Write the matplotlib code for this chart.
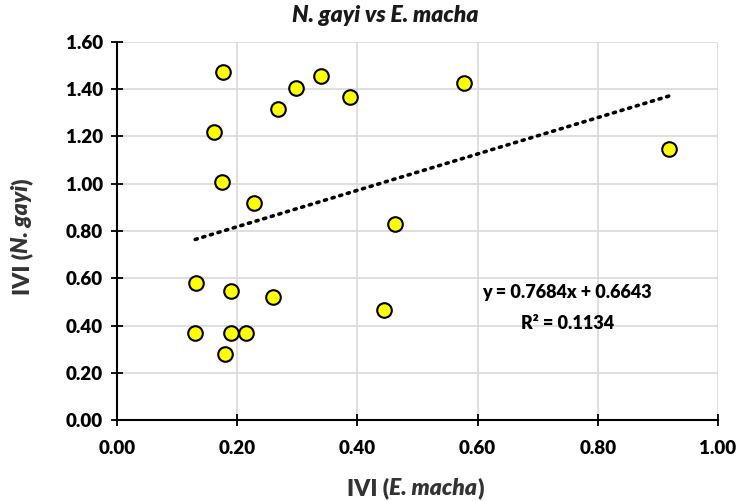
import numpy as np
import matplotlib.pyplot as plt

plt.rcParams['font.family'] = ['Lato', 'DejaVu Sans']

# IVI values
e_macha = [0.177, 0.162, 0.174, 0.228, 0.267, 0.298, 0.339, 0.388, 0.463,
           0.132, 0.190, 0.260, 0.444, 0.130, 0.190, 0.215, 0.180, 0.578, 0.918]
n_gayi = [1.472, 1.220, 1.008, 0.920, 1.317, 1.406, 1.456, 1.366, 0.831,
          0.579, 0.546, 0.522, 0.466, 0.368, 0.368, 0.368, 0.279, 1.423, 1.147]

slope = 0.7684
intercept = 0.6643
r2 = 0.1134

xticks = [0.0, 0.2, 0.4, 0.6, 0.8, 1.0]
yticks = [0.0, 0.2, 0.4, 0.6, 0.8, 1.0, 1.2, 1.4, 1.6]

fig = plt.figure(figsize=(7.41, 5.01), dpi=100)
ax = fig.add_axes([0.158, 0.161, 0.811, 0.756])

ax.grid(True, color='#d9d9d9', linewidth=1.2, zorder=0)
ax.set_axisbelow(True)

# linear trendline
xs = np.array([min(e_macha), max(e_macha)])
ax.plot(xs, slope * xs + intercept, color='black', linewidth=2.6,
        linestyle=(0, (0.6, 1.6)), dash_capstyle='round', zorder=2)

ax.scatter(e_macha, n_gayi, s=110, c='#ffff00', edgecolors='black',
           linewidths=1.5, zorder=3)

ax.set_xlim(0, 1.0)
ax.set_ylim(0, 1.6)
ax.set_xticks(xticks)
ax.set_yticks(yticks)
ax.set_xticklabels(['%.2f' % v for v in xticks])
ax.set_yticklabels(['%.2f' % v for v in yticks])
ax.tick_params(axis='both', direction='inout', length=8, width=1.3,
               labelsize=13.5, pad=6)
ax.tick_params(axis='x', pad=10)
for lab in ax.get_xticklabels() + ax.get_yticklabels():
    lab.set_fontweight('heavy')

for s in ['top', 'right']:
    ax.spines[s].set_visible(False)
for s in ['left', 'bottom']:
    ax.spines[s].set_linewidth(1.5)
    ax.spines[s].set_color('black')

lab_col = '#333333'
lab_fs = 16.5

# x label in pieces: upright / italic / upright
t = fig.text(347 / 741, 1 - 488 / 501, 'IVI (', fontsize=lab_fs,
             fontweight='heavy', color=lab_col, ha='left', va='center')
t = ax.annotate('E. macha', xy=(1, 0), xycoords=t, fontsize=lab_fs,
                fontweight='heavy', style='italic', color=lab_col,
                ha='left', va='bottom')
ax.annotate(')', xy=(1, 0), xycoords=t, fontsize=lab_fs, fontweight='heavy',
            color=lab_col, ha='left', va='bottom')

# y label in pieces, rotated
t = fig.text(22 / 741, 1 - 295 / 501, 'IVI (', fontsize=lab_fs,
             fontweight='heavy', color=lab_col, ha='center', va='bottom',
             rotation=90)
t = ax.annotate('N. gayi', xy=(0.5, 1), xycoords=t, fontsize=lab_fs,
                fontweight='heavy', style='italic', color=lab_col,
                ha='center', va='bottom', rotation=90)
ax.annotate(')', xy=(0.5, 1), xycoords=t, fontsize=lab_fs, fontweight='heavy',
            color=lab_col, ha='center', va='bottom', rotation=90)

fig.text(385 / 741, 1 - 16 / 501, 'N. gayi vs E. macha', fontsize=16.5,
         fontweight='heavy', style='italic', color='#1a1a1a',
         ha='center', va='center')

ax.text(0.749, 0.538, 'y = 0.7684x + 0.6643', ha='center', va='center',
        fontsize=13, fontweight='heavy')
ax.text(0.749, 0.411, 'R² = %.4f' % r2, ha='center', va='center',
        fontsize=13, fontweight='heavy')

fig.savefig('out.png', dpi=100)
